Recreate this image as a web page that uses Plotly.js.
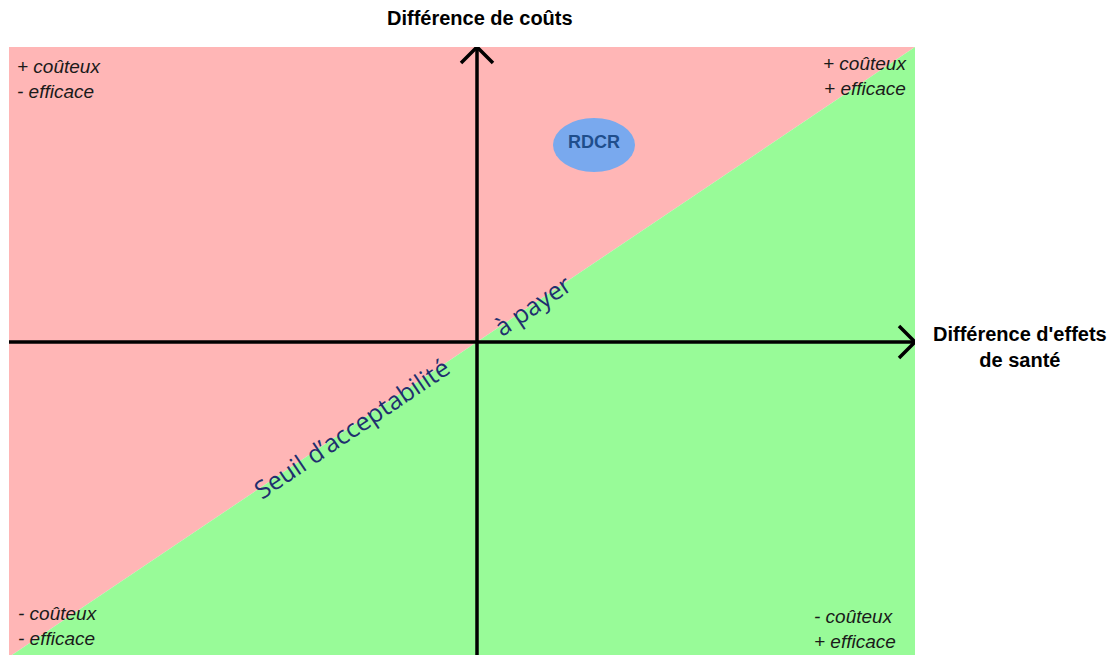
<!DOCTYPE html>
<html>
<head>
<meta charset="utf-8">
<script src="https://cdn.plot.ly/plotly-3.0.1.min.js"></script>
<style>html,body{margin:0;padding:0;background:#fff;}#chart{width:1113px;height:655px;}</style>
</head>
<body>
<div id="chart"></div>
<script>
// Axis extents (health-effect difference, cost difference), origin at the crossing of the axes
const xRange = [-468, 438];
const yRange = [-313, 295];
// Willingness-to-pay threshold line
const thresholdX = [-468, 438];
const thresholdY = [-315, 295];
// Quadrant labels
const quadrantTexts = ["+ coûteux<br>- efficace", "+ coûteux<br>+ efficace", "- coûteux<br>- efficace", "- coûteux<br>+ efficace"];
// ICER point
const rdcrX = [117];
const rdcrY = [197];
const rdcrLabel = ["RDCR"];
// Titles
const xTitle = "Différence d'effets<br>de santé";
const yTitle = "Différence de coûts";
const thresholdLabels = ["Seuil d’acceptabilité", "à payer"];

const pink = {
  x: [thresholdX[0], thresholdX[1], thresholdX[0]],
  y: [thresholdY[0], thresholdY[1], thresholdY[1]],
  fill: 'toself', fillcolor: '#ffb6b6', mode: 'lines', line: {width: 0, color: '#ffb6b6'},
  hoverinfo: 'skip', showlegend: false
};
const green = {
  x: [thresholdX[0], thresholdX[1], thresholdX[1], thresholdX[0]],
  y: [thresholdY[0], thresholdY[1], yRange[0], yRange[0]],
  fill: 'toself', fillcolor: '#98fb98', mode: 'lines', line: {width: 0, color: '#98fb98'},
  hoverinfo: 'skip', showlegend: false
};

const axisLine = {color: '#000', width: 3.5};
const ah = 16; // arrowhead size in data units (1 unit = 1 px)
const shapes = [
  {type: 'circle', xref: 'x', yref: 'y', xsizemode: 'pixel', ysizemode: 'pixel',
   xanchor: rdcrX[0], yanchor: rdcrY[0], x0: -41, x1: 41, y0: -27, y1: 27,
   fillcolor: '#79a9ee', line: {width: 0}},
  {type: 'line', xref: 'x', yref: 'y', x0: xRange[0], x1: xRange[1], y0: 0, y1: 0, line: axisLine},
  {type: 'line', xref: 'x', yref: 'y', x0: 0, x1: 0, y0: yRange[0] - 5, y1: yRange[1], line: axisLine},
  {type: 'path', xref: 'x', yref: 'y',
   path: `M ${xRange[1]-ah},${ah} L ${xRange[1]},0 L ${xRange[1]-ah},${-ah}`, line: axisLine},
  {type: 'path', xref: 'x', yref: 'y',
   path: `M ${-ah},${yRange[1]-ah} L 0,${yRange[1]} L ${ah},${yRange[1]-ah}`, line: axisLine}
];

const qFont = {family: 'Liberation Sans, Arial, sans-serif', size: 19, color: '#1a1a1a', style: 'italic'};
const tFont = {family: 'Liberation Sans, Arial, sans-serif', size: 20, color: '#000'};
const sFont = {family: 'Open Sans, sans-serif', size: 25, color: '#1f2f6e'};
const annotations = [
  {x: xRange[0] + 6, y: 263, xanchor: 'left', yanchor: 'middle', align: 'left', text: '<i>' + quadrantTexts[0] + '</i>', showarrow: false, font: qFont},
  {x: xRange[1] - 6, y: 266, xanchor: 'right', yanchor: 'middle', align: 'right', text: '<i>' + quadrantTexts[1] + '</i>', showarrow: false, font: qFont},
  {x: xRange[0] + 7, y: -284, xanchor: 'left', yanchor: 'middle', align: 'left', text: '<i>' + quadrantTexts[2] + '</i>', showarrow: false, font: qFont},
  {x: 335, y: -287, xanchor: 'left', yanchor: 'middle', align: 'left', text: '<i>' + quadrantTexts[3] + '</i>', showarrow: false, font: qFont},
  {x: rdcrX[0], y: rdcrY[0] + 3, text: '<b>' + rdcrLabel[0] + '</b>', showarrow: false,
   font: {family: 'Liberation Sans, Arial, sans-serif', size: 18, color: '#1f4e8c'}},
  {x: -126, y: -86, text: thresholdLabels[0], textangle: -34, showarrow: false, font: sFont},
  {x: 55, y: 37, text: thresholdLabels[1], textangle: -34, showarrow: false, font: sFont},
  {xref: 'x', x: 3, yref: 'paper', y: 1, yshift: 29, yanchor: 'middle', text: '<b>' + yTitle + '</b>', showarrow: false, font: tFont},
  {xref: 'paper', x: 1, xshift: 105, xanchor: 'center', y: -5, yanchor: 'middle', align: 'center', text: '<b>' + xTitle + '</b>', showarrow: false, font: tFont}
];

const layout = {
  width: 1113, height: 655,
  margin: {l: 9, r: 198, t: 47, b: 0, pad: 0},
  paper_bgcolor: '#fff', plot_bgcolor: '#fff',
  xaxis: {range: xRange, visible: false, fixedrange: true},
  yaxis: {range: yRange, visible: false, fixedrange: true},
  shapes: shapes, annotations: annotations, showlegend: false
};

Plotly.newPlot('chart', [pink, green], layout, {displayModeBar: false, staticPlot: true});
</script>
</body>
</html>
